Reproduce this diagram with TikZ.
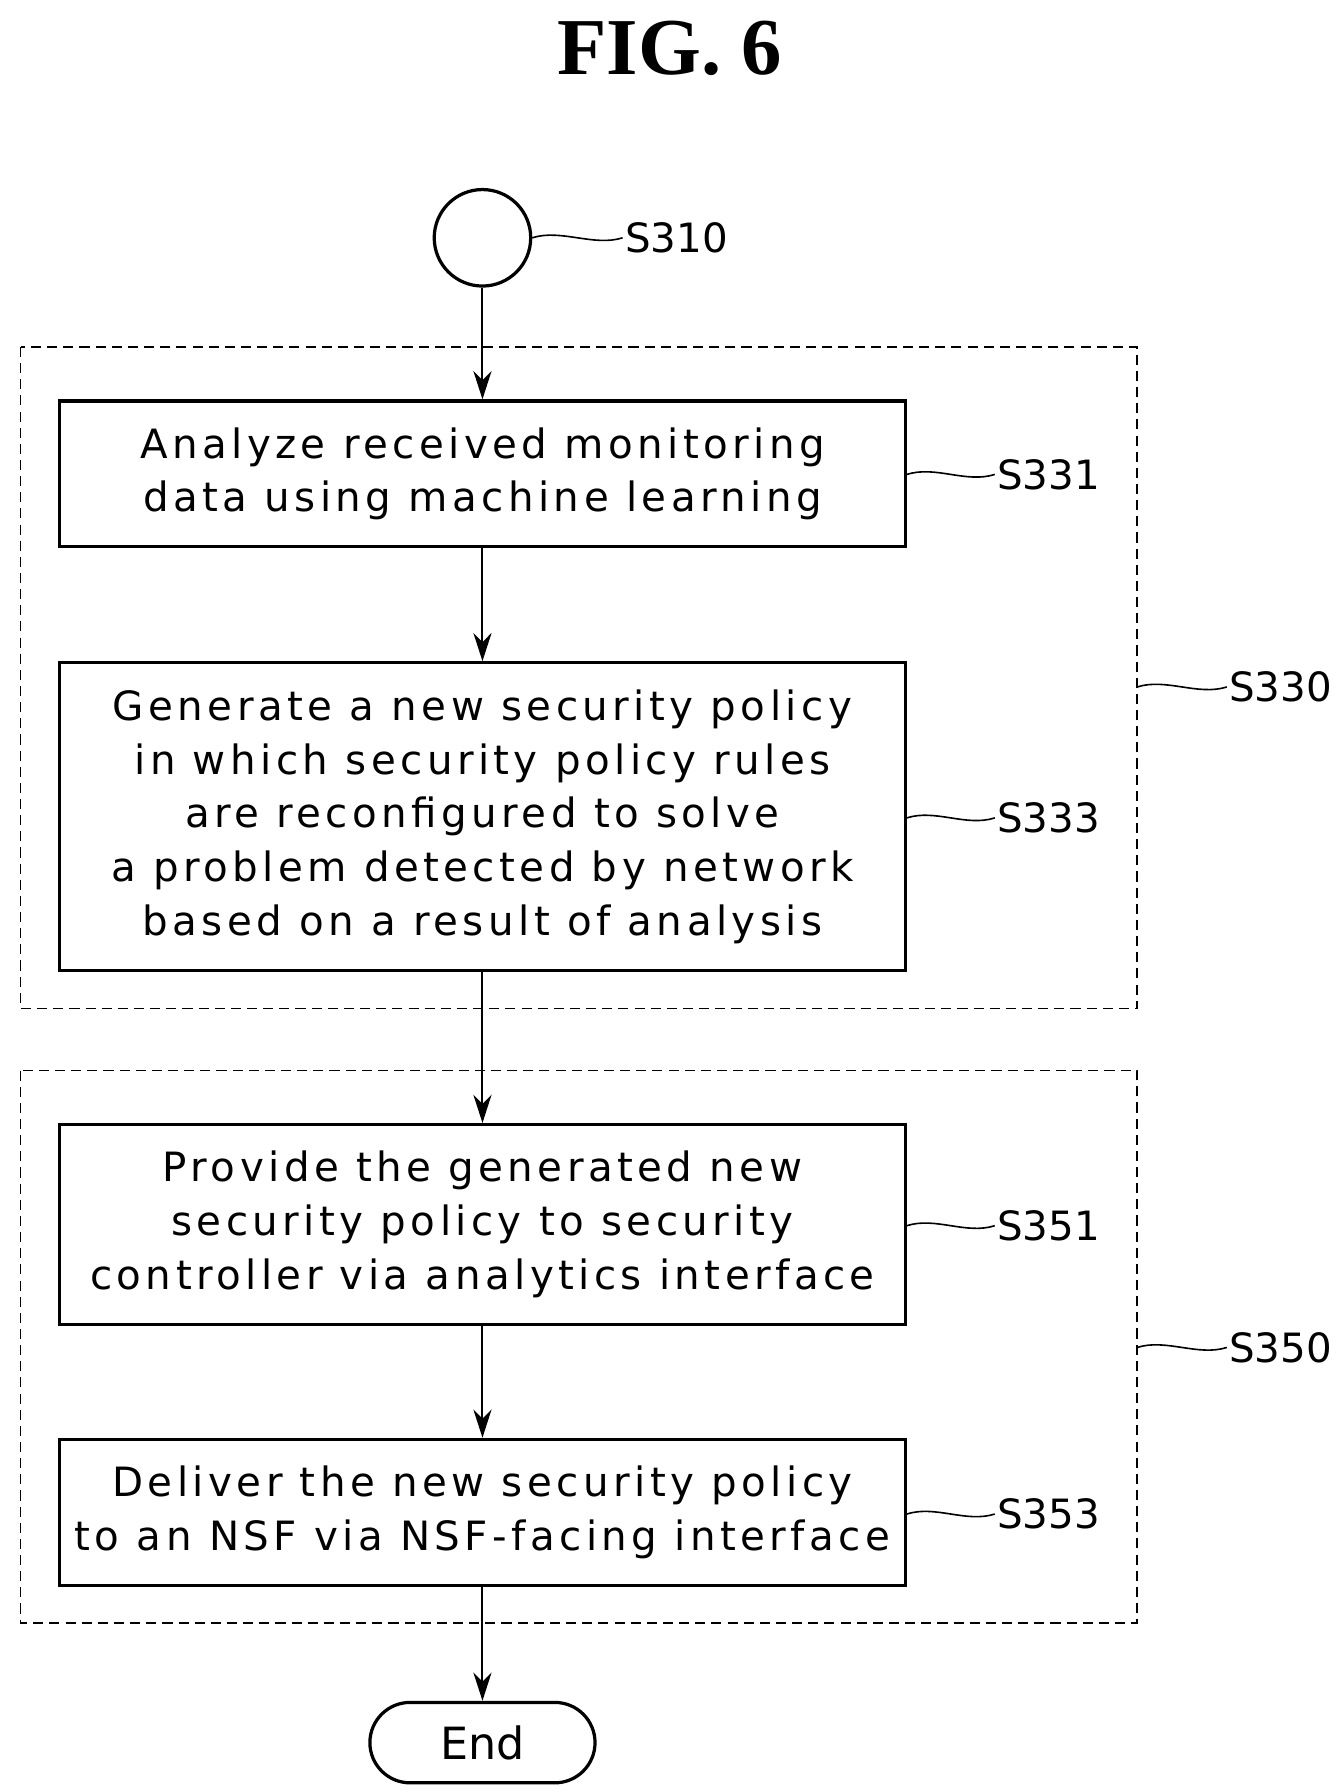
\documentclass[tikz,border=0pt]{standalone}
\usepackage{fontspec}
\setmainfont{DejaVu Sans}
\newfontfamily\boxfont[LetterSpace=11]{DejaVu Sans}
\newfontfamily\titlefont{Liberation Serif}
\usetikzlibrary{positioning,arrows.meta}
\tikzset{%
  >={Stealth[length=14pt,width=9pt]},
  stepbox/.style={draw,line width=1.6pt,rectangle,minimum width=736*0.02cm,align=center,
    font=\boxfont\fontsize{20}{26.7}\selectfont,inner sep=0pt},
  group/.style={draw,dash pattern=on 5pt off 3pt,line width=0.8pt},
  lbl/.style={anchor=west,font=\fontsize{20}{24}\selectfont,inner sep=1pt},
  flow/.style={draw,line width=1pt,->},
  leader/.style={draw,line width=0.8pt}
}
\newcommand{\wave}[2]{\draw[leader] (#1) .. controls +(25,-8) and +(-25,8) .. (#2);}
\begin{document}
\begin{tikzpicture}[x=0.02cm,y=-0.02cm]
	\useasboundingbox (0,0) rectangle (1166,1560);
	\node[font=\titlefont\bfseries\fontsize{40}{44}\selectfont] (title) at (583,42) {FIG. 6};
	
	% dashed groups
	\draw[group] (18,302) rectangle (990,878);
	\draw[group] (18,932) rectangle (990,1413);
	\coordinate (g1) at (990,598);
	\coordinate (g2) at (990,1173);
	
	\node[draw,circle,line width=1.6pt,minimum size=84*0.02cm] (start) at (420,207) {};
	\node[stepbox,minimum height=127*0.02cm] (s331) at (420,412.5)
		{Analyze received monitoring\\data using machine learning};
	\node[stepbox,minimum height=268*0.02cm] (s333) at (420,711)
		{Generate a new security policy\\in which security policy rules\\are reconfigured to solve\\a problem detected by network\\based on a result of analysis};
	\node[stepbox,minimum height=174*0.02cm] (s351) at (420,1066)
		{Provide the generated new\\security policy to security\\controller via analytics interface};
	\node[stepbox,minimum height=127*0.02cm] (s353) at (420,1316.5)
		{Deliver the new security policy\\to an NSF via NSF-facing interface};
	\node[draw,line width=1.6pt,rounded corners=35*0.02cm,minimum width=196*0.02cm,
		minimum height=70*0.02cm,font=\fontsize{22}{26}\selectfont] (end) at (420,1517) {End};
	
	\draw[flow] (start) -- (s331);
	\draw[flow] (s331) -- (s333);
	\draw[flow] (s333) -- (s351);
	\draw[flow] (s351) -- (s353);
	\draw[flow] (s353) -- (end);
	
	% step labels
	\node[lbl] (l310) at (542,207) {S310};
	\node[lbl] (l331) at (866,413) {S331};
	\node[lbl] (l333) at (866,712) {S333};
	\node[lbl] (l351) at (866,1067) {S351};
	\node[lbl] (l353) at (866,1318) {S353};
	\node[lbl] (l330) at (1068,598) {S330};
	\node[lbl] (l350) at (1068,1173) {S350};
	\wave{start.east}{l310.west}
	\wave{s331.east |- l331}{l331.west}
	\wave{s333.east |- l333}{l333.west}
	\wave{s351.east |- l351}{l351.west}
	\wave{s353.east |- l353}{l353.west}
	\wave{g1}{l330.west}
	\wave{g2}{l350.west}
\end{tikzpicture}
\end{document}
